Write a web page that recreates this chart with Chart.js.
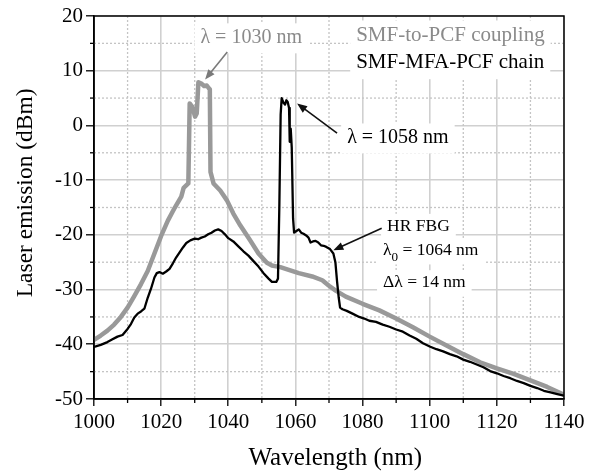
<!DOCTYPE html>
<html>
<head>
<meta charset="utf-8">
<script src="https://cdn.jsdelivr.net/npm/chart.js@4.4.1/dist/chart.umd.min.js"></script>
<style>
body{margin:0;background:#fff;}
</style>
</head>
<body>
<canvas id="myChart" width="589" height="472"></canvas>
<script>
// spectra: wavelength (nm) / emission (dBm)
var couplingWl = [1000, 1002, 1004, 1006, 1008, 1010, 1012, 1014, 1016, 1018, 1020, 1022, 1024, 1026, 1026.7, 1027.4, 1028.1,
  1028.5, 1029.3, 1030.1, 1030.6, 1031.1, 1032.1, 1032.8, 1033.6, 1034.2, 1034.5, 1034.7, 1035.6, 1037.6, 1039.6, 1041.5,
  1043.6, 1046.5, 1049, 1051.5, 1053, 1055.5, 1058, 1061, 1065, 1068, 1070, 1072, 1075, 1080, 1085, 1090, 1095, 1100,
  1105, 1110, 1115, 1120, 1125, 1130, 1135, 1140];
var couplingDbm = [-39.2, -38.4, -37.5, -36.4, -35.0, -33.3, -31.2, -29.0, -26.6, -23.4, -20.2, -17.4, -15.1, -13.0, -11.4, -11.0, -10.6,
  4.0, 3.4, 1.6, 2.2, 7.9, 7.6, 7.2, 7.3, 6.8, 6.6, -8.5, -10.6, -11.9, -13.7, -16.1,
  -18.3, -21.0, -23.4, -25.1, -25.6, -25.9, -26.4, -27.0, -27.6, -28.3, -29.3, -30.2, -31.3, -32.6, -33.8, -35.3, -36.9, -38.6,
  -40.2, -41.8, -43.3, -44.4, -45.4, -46.6, -47.8, -49.2];

var chainWl = [1000, 1002, 1004, 1005.5, 1007, 1008.5, 1010, 1011, 1012, 1013, 1014, 1015, 1016, 1017, 1018, 1018.7, 1019.5,
  1020.5, 1021.5, 1022.5, 1023.5, 1024.5, 1025.5, 1026.5, 1027.5, 1028.7, 1030, 1031, 1032, 1033, 1034, 1035, 1036, 1037,
  1038, 1039, 1040, 1041.5, 1043, 1044.5, 1046, 1047.5, 1049, 1050.5, 1052, 1053, 1054.3, 1054.8, 1055.2, 1055.6, 1055.9,
  1056.4, 1056.9, 1057.3, 1057.7, 1058.1, 1058.3, 1058.6, 1058.9, 1059.3, 1059.6, 1060.3, 1061, 1061.7, 1062.4, 1063.2,
  1063.9, 1064.5, 1065.2, 1066, 1066.8, 1067.6, 1068.4, 1069.2, 1070.3, 1071.3, 1071.9, 1072.4, 1072.9, 1073.3, 1074,
  1075.3, 1077, 1079, 1080.5, 1082, 1084, 1086, 1088, 1090, 1092, 1094, 1096, 1098, 1100, 1102, 1104, 1106, 1108, 1110,
  1112, 1114, 1116, 1118, 1120, 1122, 1124, 1126, 1128, 1130, 1132, 1134, 1136, 1138, 1140];
var chainDbm = [-40.5, -40.1, -39.6, -39.1, -38.6, -38.3, -37.2, -36.3, -35.1, -34.4, -34.0, -33.5, -31.5, -29.8, -27.8, -27.0, -26.8,
  -27.1, -26.7, -26.2, -25.2, -24.1, -23.2, -22.3, -21.5, -21.0, -20.7, -20.8, -20.5, -20.3, -19.9, -19.6, -19.2, -19.0,
  -19.3, -19.9, -20.6, -21.2, -22.1, -23.0, -23.8, -24.8, -25.8, -27.0, -28.0, -28.6, -28.6, -28.0, -15.0, 2.0, 5.0,
  4.2, 3.8, 4.6, 4.3, 3.2, -3.0, -0.6, -4.0, -17.0, -19.6, -19.3, -19.0, -19.6, -19.8, -20.1,
  -20.5, -21.4, -21.2, -21.1, -21.4, -21.9, -22.0, -22.2, -22.6, -23.4, -25.0, -28.5, -31.5, -33.3, -33.6,
  -33.9, -34.4, -35.0, -35.3, -35.7, -35.9, -36.4, -36.8, -37.3, -37.7, -38.4, -39.0, -39.8, -40.4, -40.9, -41.3, -41.8, -42.2, -42.8,
  -43.2, -43.7, -44.2, -44.9, -45.3, -45.8, -46.2, -46.7, -47.1, -47.6, -48.0, -48.5, -48.8, -49.1, -49.4];

var xMinor = [1010, 1030, 1050, 1070, 1090, 1110, 1130];
var yMinor = [15, 5, -5, -15, -25, -35, -45];

var serif = "'Liberation Serif', 'Times New Roman', serif";

// text placed in data units (left edge, vertical middle)
var notes = [
  {text: 'λ = 1030 nm', x: 1031.7, y: 16.1, size: 20, color: '#8a8a8a'},
  {text: 'SMF-to-PCF coupling', x: 1078.1, y: 16.5, size: 21, color: '#8a8a8a'},
  {text: 'SMF-MFA-PCF chain', x: 1078.1, y: 11.5, size: 21, color: '#000'},
  {text: 'λ = 1058 nm', x: 1075.4, y: -2.2, size: 20, color: '#000'},
  {text: 'HR FBG', x: 1087.3, y: -18.4, size: 17.5, color: '#000'},
  {text: 'λ', sub: '0', rest: ' = 1064 nm', x: 1086.1, y: -22.8, size: 17.5, color: '#000'},
  {text: 'Δλ = 14 nm', x: 1086.1, y: -28.7, size: 17.5, color: '#000'}
];
var arrows = [
  {from: [1039.7, 13.4], to: [1033.1, 8.4], color: '#7a7a7a'},
  {from: [1072.4, -1.4], to: [1060.5, 4.0], color: '#111'},
  {from: [1085.7, -18.8], to: [1071.3, -22.8], color: '#111'}
];

function noteWidth(ctx, n) {
  ctx.font = n.size + 'px ' + serif;
  var w = ctx.measureText(n.text).width;
  if (n.sub) {
    ctx.font = (n.size * 0.75) + 'px ' + serif;
    w += ctx.measureText(n.sub).width;
    ctx.font = n.size + 'px ' + serif;
    w += ctx.measureText(n.rest).width;
  }
  return w;
}

var extras = {
  id: 'extras',
  beforeDatasetsDraw: function(chart) {
    var ctx = chart.ctx, a = chart.chartArea;
    var sx = chart.scales.x, sy = chart.scales.y;
    ctx.save();
    // dotted minor grid
    ctx.strokeStyle = '#c4c4c4';
    ctx.lineWidth = 1.3;
    ctx.setLineDash([2, 2]);
    xMinor.forEach(function(v) {
      var px = sx.getPixelForValue(v);
      ctx.beginPath(); ctx.moveTo(px, a.top); ctx.lineTo(px, a.bottom); ctx.stroke();
    });
    yMinor.forEach(function(v) {
      var py = sy.getPixelForValue(v);
      ctx.beginPath(); ctx.moveTo(a.left, py); ctx.lineTo(a.right, py); ctx.stroke();
    });
    ctx.setLineDash([]);
    // minor ticks outside
    ctx.strokeStyle = '#000';
    ctx.lineWidth = 1.3;
    xMinor.forEach(function(v) {
      var px = sx.getPixelForValue(v);
      ctx.beginPath(); ctx.moveTo(px, a.bottom); ctx.lineTo(px, a.bottom + 4); ctx.stroke();
    });
    yMinor.forEach(function(v) {
      var py = sy.getPixelForValue(v);
      ctx.beginPath(); ctx.moveTo(a.left, py); ctx.lineTo(a.left - 4, py); ctx.stroke();
    });
    // white boxes behind text
    ctx.fillStyle = '#fff';
    notes.forEach(function(n) {
      var px = sx.getPixelForValue(n.x), py = sy.getPixelForValue(n.y);
      var w = noteWidth(ctx, n);
      ctx.fillRect(px - 6, py - n.size * 0.7, w + 12, n.size * 1.4 + 2);
    });
    // text
    ctx.textBaseline = 'middle';
    ctx.textAlign = 'left';
    notes.forEach(function(n) {
      var px = sx.getPixelForValue(n.x), py = sy.getPixelForValue(n.y);
      ctx.fillStyle = n.color;
      ctx.font = n.size + 'px ' + serif;
      ctx.fillText(n.text, px, py);
      if (n.sub) {
        px += ctx.measureText(n.text).width;
        ctx.font = (n.size * 0.75) + 'px ' + serif;
        ctx.fillText(n.sub, px, py + 7);
        px += ctx.measureText(n.sub).width;
        ctx.font = n.size + 'px ' + serif;
        ctx.fillText(n.rest, px, py);
      }
    });
    ctx.restore();
  },
  afterDatasetsDraw: function(chart) {
    var ctx = chart.ctx, a = chart.chartArea;
    var sx = chart.scales.x, sy = chart.scales.y;
    ctx.save();
    arrows.forEach(function(r) {
      var x1 = sx.getPixelForValue(r.from[0]), y1 = sy.getPixelForValue(r.from[1]);
      var x2 = sx.getPixelForValue(r.to[0]), y2 = sy.getPixelForValue(r.to[1]);
      var ang = Math.atan2(y2 - y1, x2 - x1);
      ctx.strokeStyle = r.color; ctx.fillStyle = r.color;
      ctx.lineWidth = 1.6;
      ctx.beginPath(); ctx.moveTo(x1, y1);
      ctx.lineTo(x2 - 7 * Math.cos(ang), y2 - 7 * Math.sin(ang)); ctx.stroke();
      ctx.beginPath();
      ctx.moveTo(x2, y2);
      ctx.lineTo(x2 - 10 * Math.cos(ang) + 4 * Math.sin(ang), y2 - 10 * Math.sin(ang) - 4 * Math.cos(ang));
      ctx.lineTo(x2 - 10 * Math.cos(ang) - 4 * Math.sin(ang), y2 - 10 * Math.sin(ang) + 4 * Math.cos(ang));
      ctx.closePath(); ctx.fill();
    });
    // frame
    ctx.strokeStyle = '#000';
    ctx.lineWidth = 1.5;
    ctx.strokeRect(a.left, a.top, a.right - a.left, a.bottom - a.top);
    ctx.restore();
  }
};

function toPoints(xs, ys) {
  return xs.map(function(x, i) { return {x: x, y: ys[i]}; });
}

var ctx = document.getElementById('myChart').getContext('2d');
var chart = new Chart(ctx, {
  type: 'line',
  data: {
    datasets: [
      {
        label: 'SMF-MFA-PCF chain',
        data: toPoints(chainWl, chainDbm),
        borderColor: '#000',
        borderWidth: 2.3,
        order: 0
      },
      {
        label: 'SMF-to-PCF coupling',
        data: toPoints(couplingWl, couplingDbm),
        borderColor: '#999',
        borderWidth: 4.5,
        order: 1
      }
    ]
  },
  options: {
    responsive: false,
    animation: false,
    layout: {padding: {left: 0, top: 16, right: 25, bottom: 0}},
    elements: {
      point: {radius: 0},
      line: {tension: 0, borderJoinStyle: 'round', fill: false}
    },
    plugins: {legend: {display: false}, tooltip: {enabled: false}},
    scales: {
      x: {
        type: 'linear',
        min: 1000, max: 1140,
        afterFit: function(s) { s.height = 73; },
        ticks: {
          stepSize: 20, padding: 4, color: '#000', maxRotation: 0, autoSkip: false,
          font: {family: serif, size: 21},
          callback: function(v) { return String(v); }
        },
        grid: {color: '#d0d0d0', lineWidth: 1.6, tickColor: '#000', tickLength: 7, tickWidth: 1.3},
        border: {color: '#000', width: 1.5},
        title: {
          display: true, text: '\u00a0\u00a0Wavelength (nm)', color: '#000',
          font: {family: serif, size: 25, lineHeight: 1.1}, padding: {top: 0, bottom: 0}
        }
      },
      y: {
        min: -50, max: 20,
        afterFit: function(s) { s.width = 94; },
        ticks: {
          stepSize: 10, padding: 3, color: '#000',
          font: {family: serif, size: 21},
          callback: function(v) { return String(v); }
        },
        grid: {color: '#d0d0d0', lineWidth: 1.6, tickColor: '#000', tickLength: 8, tickWidth: 1.3},
        border: {color: '#000', width: 1.5},
        title: {
          display: true, text: '\u00a0\u00a0\u00a0\u00a0\u00a0Laser emission (dBm)', color: '#000',
          font: {family: serif, size: 23.5, lineHeight: 1.2}, padding: {top: 12, bottom: 0}
        }
      }
    }
  },
  plugins: [extras]
});
</script>
</body>
</html>
